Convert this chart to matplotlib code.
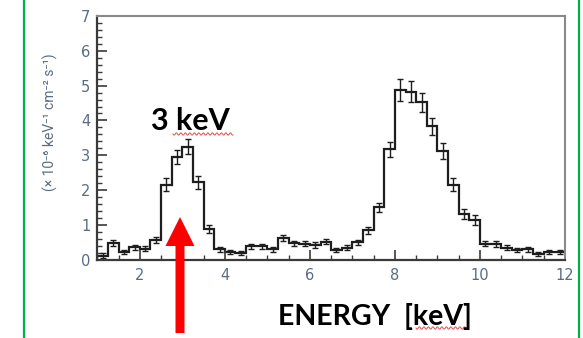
import numpy as np
import matplotlib
matplotlib.use("Agg")
import matplotlib.pyplot as plt
from matplotlib.lines import Line2D
from matplotlib.patches import FancyArrow
from matplotlib.ticker import MultipleLocator

# Spectrum: 0.25 keV bins from 1 to 12 keV
edges = np.arange(1.0, 12.0001, 0.25)
flux = [0.12, 0.48, 0.23, 0.36, 0.31, 0.57, 2.16, 2.95, 3.25, 2.22, 0.89,
        0.30, 0.23, 0.20, 0.38, 0.38, 0.30, 0.62, 0.47, 0.46, 0.42, 0.52,
        0.28, 0.34, 0.50, 0.85, 1.50, 3.17, 4.88, 4.83, 4.52, 3.83, 3.12,
        2.16, 1.32, 1.13, 0.46, 0.45, 0.34, 0.27, 0.30, 0.17, 0.23, 0.23]
flux_err = [0.06, 0.08, 0.06, 0.07, 0.07, 0.09, 0.19, 0.21, 0.22, 0.18, 0.12,
            0.07, 0.06, 0.06, 0.07, 0.07, 0.07, 0.09, 0.08, 0.08, 0.08, 0.08,
            0.07, 0.07, 0.08, 0.10, 0.14, 0.22, 0.31, 0.30, 0.27, 0.25, 0.22,
            0.19, 0.15, 0.14, 0.08, 0.08, 0.07, 0.06, 0.07, 0.06, 0.06, 0.06]

W, H = 583, 338
fig = plt.figure(figsize=(W / 100, H / 100), dpi=100)
ax = fig.add_axes([97.3 / W, 1 - 259.7 / H, (565 - 97.3) / W, (259.7 - 16) / H])

centers = 0.5 * (edges[:-1] + edges[1:])
ax.stairs(flux, edges, baseline=None, color="#1e1e1e", lw=1.6)
ax.errorbar(centers, flux, yerr=flux_err, fmt="none", ecolor="#1e1e1e",
            elinewidth=1.0, capsize=2, capthick=1.0)

ax.set_xlim(1, 12)
ax.set_ylim(0, 7)
ax.xaxis.set_major_locator(MultipleLocator(2))
ax.xaxis.set_minor_locator(MultipleLocator(0.5))
ax.yaxis.set_major_locator(MultipleLocator(1))
ax.yaxis.set_minor_locator(MultipleLocator(0.2))

tick_col = "#5a6b86"
ax.tick_params(which="both", direction="in", colors="#3a3a3a",
               labelcolor=tick_col, labelsize=10.5)
ax.tick_params(which="major", length=7, width=1.2)
ax.tick_params(which="minor", length=3.5, width=1.0)
ax.tick_params(axis="x", pad=6)
ax.tick_params(axis="y", pad=5)

for side in ("left", "bottom"):
    ax.spines[side].set_color("#3a3a3a")
    ax.spines[side].set_linewidth(1.6)
for side in ("top", "right"):
    ax.spines[side].set_color("#8a8a8a")
    ax.spines[side].set_linewidth(1.5)

ax.set_ylabel("(× 10⁻⁶ keV⁻¹ cm⁻² s⁻¹)", fontsize=10, color=tick_col,
              family=["Roboto", "DejaVu Sans"])
ax.yaxis.set_label_coords(-0.083, 0.565)

# annotations on the slide
ax.text(3.18, 3.73, "3 keV", fontsize=22, fontweight="bold",
        family="Lato", ha="center", va="baseline", color="black")
fig.text(375 / W, 1 - 325 / H, "ENERGY  [keV]", fontsize=20.5,
         fontweight="bold", family="Lato", ha="center", va="baseline",
         color="black")

# red arrow pointing at the 3 keV line
fig.patches.append(FancyArrow(180 / W, 1 - 333 / H, 0, (333 - 217) / H,
                              width=9 / W, head_width=29 / W,
                              head_length=29 / H, length_includes_head=True,
                              color="#ff0000", lw=0,
                              transform=fig.transFigure, figure=fig))

# spell-check squiggles under "keV"
for x0, x1, yy in [(173, 233, 134), (416, 466, 328)]:
    xs = np.linspace(x0, x1, 80)
    ys = yy + 1.2 * np.sin((xs - x0) * 2 * np.pi / 4.5)
    fig.add_artist(Line2D(xs / W, 1 - ys / H, color="#e84a4a", lw=0.7,
                          transform=fig.transFigure))

# slide border lines
for xb in (24, 579):
    fig.add_artist(Line2D([xb / W, xb / W], [0, 1], color="#00b050", lw=1.6,
                          transform=fig.transFigure))

fig.savefig("out.png", dpi=100)
